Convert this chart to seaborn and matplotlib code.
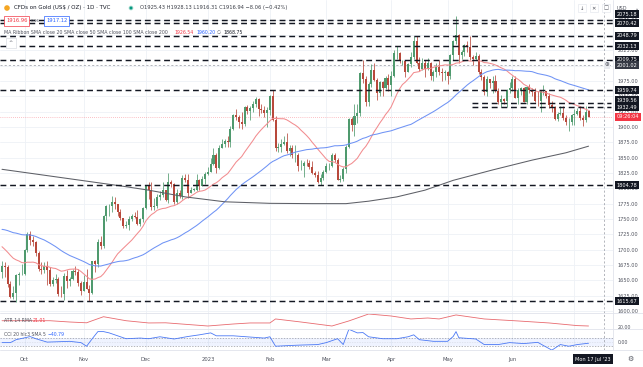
import numpy as np
import pandas as pd
import matplotlib
matplotlib.use("Agg")
import matplotlib.pyplot as plt
import matplotlib.transforms as mtransforms
from matplotlib.lines import Line2D
from matplotlib.patches import Circle
import seaborn as sns

# ---------------- data ----------------
start_date = "2022-09-21"
end_date = "2023-07-10"

opens = [
    1664, 1673, 1671, 1644, 1622, 1629, 1659, 1660,
    1661, 1699, 1725, 1716, 1712, 1695, 1668, 1666, 1673, 1666, 1644, 1650, 1652, 1628, 1627, 1657, 1649, 1652, 1665, 1663, 1645,
    1633, 1647, 1636, 1630, 1681, 1676, 1712, 1706, 1755, 1771, 1771, 1777, 1774, 1761, 1751, 1738, 1740, 1750, 1755, 1754, 1741, 1750,
    1768, 1803, 1797, 1769, 1771, 1786, 1789, 1797, 1781, 1810, 1807, 1777, 1793, 1787, 1817, 1814, 1792, 1798, 1798, 1814, 1804, 1815,
    1824, 1827, 1839, 1855, 1833, 1866, 1872, 1877, 1876, 1897, 1920, 1916, 1908, 1905, 1932, 1926, 1931, 1937, 1946, 1929, 1928, 1923,
    1928, 1951, 1912, 1865, 1867, 1873, 1875, 1861, 1865, 1854, 1855, 1836, 1836, 1842, 1841, 1835, 1825, 1822, 1811, 1817,
    1827, 1836, 1836, 1855, 1847, 1813, 1815, 1831, 1868, 1913, 1904, 1918, 1923, 1988, 1978, 1940, 1970, 1993, 1977, 1956, 1973, 1964, 1980,
    1969, 1984, 2020, 2021, 2007, 2008, 1990, 2003, 2014, 2040, 2004, 1995, 2005, 1994, 2004, 1983, 1989, 1998, 1990, 1988,
    1990, 1983, 2017, 2040, 2050, 2017, 2022, 2034, 2030, 2015, 2011, 2016, 1989, 1982, 1957, 1978, 1971, 1975, 1958, 1941, 1946, 1943, 1960,
    1963, 1978, 1948, 1961, 1963, 1940, 1965, 1961, 1957, 1943, 1942, 1958, 1958, 1950, 1936, 1932, 1913, 1921, 1923, 1914, 1908, 1908,
    1919, 1921, 1926, 1915, 1911, 1925.43,
]
highs = [
    1681, 1680, 1675, 1648, 1641, 1661, 1664, 1677,
    1701, 1729, 1730, 1722, 1714, 1698, 1679, 1679, 1682, 1671, 1655, 1660, 1655, 1641, 1662, 1667, 1656, 1669, 1674, 1668, 1649,
    1659, 1669, 1643, 1681, 1683, 1717, 1722, 1757, 1772, 1775, 1787, 1786, 1775, 1766, 1752, 1747, 1755, 1758, 1762, 1764, 1751, 1769,
    1804, 1810, 1810, 1785, 1790, 1795, 1810, 1798, 1825, 1814, 1808, 1799, 1798, 1822, 1824, 1823, 1802, 1800, 1823, 1815, 1820, 1826,
    1834, 1850, 1865, 1858, 1870, 1881, 1880, 1886, 1901, 1922, 1930, 1920, 1925, 1934, 1936, 1935, 1942, 1949, 1948, 1937, 1934, 1932,
    1952, 1960, 1918, 1874, 1880, 1885, 1890, 1871, 1870, 1870, 1857, 1846, 1845, 1848, 1846, 1844, 1829, 1828, 1823, 1830,
    1842, 1842, 1858, 1858, 1850, 1821, 1834, 1871, 1914, 1917, 1938, 1937, 1989, 2009, 1983, 1973, 2003, 2004, 1980, 1975, 1975, 1984, 1987,
    1991, 2025, 2032, 2023, 2009, 2009, 2005, 2023, 2048, 2048, 2014, 2013, 2010, 2012, 2006, 1993, 2004, 2010, 1997, 1993,
    1992, 2019, 2042, 2081, 2051, 2026, 2035, 2041, 2048, 2017, 2023, 2019, 1995, 1985, 1984, 1979, 1984, 1985, 1964, 1953, 1948, 1962, 1974,
    1983, 1983, 1964, 1966, 1966, 1967, 1970, 1964, 1963, 1959, 1959, 1968, 1959, 1955, 1943, 1934, 1924, 1934, 1934, 1920, 1915, 1922,
    1929, 1931, 1935, 1920, 1935, 1928.13,
]
lows = [
    1654, 1655, 1639, 1621, 1620, 1615, 1642, 1659,
    1659, 1696, 1708, 1706, 1690, 1665, 1660, 1662, 1642, 1640, 1640, 1645, 1625, 1622, 1617, 1638, 1641, 1651, 1659, 1640, 1626,
    1632, 1635, 1616, 1628, 1664, 1672, 1701, 1702, 1747, 1755, 1762, 1767, 1755, 1748, 1735, 1736, 1732, 1746, 1751, 1740, 1739, 1745,
    1767, 1782, 1765, 1765, 1768, 1781, 1786, 1779, 1776, 1802, 1774, 1774, 1785, 1783, 1810, 1784, 1792, 1796, 1796, 1798, 1803, 1807,
    1822, 1826, 1838, 1825, 1831, 1865, 1867, 1867, 1868, 1895, 1912, 1899, 1896, 1902, 1922, 1911, 1924, 1932, 1918, 1923, 1917, 1900,
    1920, 1910, 1861, 1860, 1860, 1870, 1858, 1852, 1849, 1843, 1829, 1830, 1819, 1836, 1831, 1823, 1818, 1809, 1805, 1813,
    1825, 1830, 1835, 1843, 1813, 1810, 1812, 1825, 1866, 1893, 1885, 1907, 1918, 1972, 1934, 1935, 1965, 1975, 1944, 1950, 1950, 1962, 1959,
    1950, 1982, 2011, 2004, 2001, 1981, 1990, 1998, 2011, 2002, 1992, 1993, 1981, 1993, 1976, 1975, 1982, 1985, 1975, 1977,
    1970, 1979, 2009, 2035, 2005, 2011, 2016, 2022, 2010, 2001, 2009, 1986, 1977, 1952, 1951, 1963, 1956, 1957, 1937, 1932, 1938, 1932, 1955,
    1958, 1947, 1938, 1953, 1940, 1938, 1956, 1950, 1941, 1935, 1924, 1952, 1947, 1931, 1925, 1911, 1910, 1920, 1911, 1903, 1893, 1904,
    1903, 1919, 1912, 1902, 1908, 1916.31,
]
closes = [
    1673, 1671, 1644, 1622, 1629, 1659, 1660, 1661,
    1699, 1725, 1716, 1712, 1695, 1668, 1666, 1673, 1666, 1644, 1650, 1652, 1628, 1627, 1657, 1649, 1652, 1665, 1663, 1645, 1633,
    1647, 1636, 1630, 1681, 1676, 1712, 1706, 1755, 1771, 1771, 1777, 1774, 1761, 1751, 1738, 1740, 1750, 1755, 1754, 1741, 1750, 1768,
    1803, 1797, 1769, 1771, 1786, 1789, 1797, 1781, 1810, 1807, 1777, 1793, 1787, 1817, 1814, 1792, 1798, 1798, 1814, 1804, 1815, 1824,
    1827, 1839, 1855, 1833, 1866, 1872, 1877, 1876, 1897, 1920, 1916, 1908, 1905, 1932, 1926, 1931, 1937, 1946, 1929, 1928, 1923, 1928,
    1951, 1912, 1865, 1867, 1873, 1875, 1861, 1865, 1854, 1855, 1836, 1836, 1842, 1841, 1835, 1825, 1822, 1811, 1817, 1827,
    1836, 1836, 1855, 1847, 1813, 1815, 1831, 1868, 1913, 1904, 1918, 1923, 1988, 1978, 1940, 1970, 1993, 1977, 1956, 1973, 1964, 1980, 1969,
    1984, 2020, 2021, 2007, 2008, 1990, 2003, 2014, 2040, 2004, 1995, 2005, 1994, 2004, 1983, 1989, 1998, 1990, 1988, 1990,
    1983, 2017, 2040, 2050, 2017, 2022, 2034, 2030, 2015, 2011, 2016, 1989, 1982, 1957, 1978, 1971, 1975, 1958, 1941, 1946, 1943, 1960, 1963,
    1978, 1948, 1961, 1963, 1940, 1965, 1961, 1957, 1943, 1942, 1958, 1958, 1950, 1936, 1932, 1913, 1921, 1923, 1914, 1908, 1908, 1919,
    1921, 1926, 1915, 1911, 1925, 1916.94,
]
# closes before the visible window (needed for the 20/50 SMAs at the left edge)
pre_closes = [
    1709, 1708, 1709, 1711, 1696, 1719, 1727, 1719, 1717, 1735, 1756, 1766,
    1772, 1760, 1765, 1791, 1775, 1789, 1794, 1792, 1789, 1802, 1779, 1776, 1761, 1758, 1747, 1736, 1748, 1751, 1758, 1737, 1725, 1723, 1711,
    1697, 1712, 1710, 1702, 1718, 1708, 1717, 1725, 1702, 1697, 1665, 1675, 1676, 1664,
]
# SMA 200 (bar index, value)
sma200_bar = [0, 14, 28, 42, 52, 65, 79, 95, 110, 122, 130, 140, 150, 160, 174, 188, 200, 208]
sma200_val = [1831, 1822, 1813, 1804, 1797, 1786, 1778, 1775.5, 1775, 1775, 1779, 1786, 1797, 1813, 1830, 1846, 1858, 1868.75]
# ATR 14 (RMA)
atr_bar = [0, 17, 24, 30, 32, 36, 44, 52, 58, 73, 82, 88, 95, 97, 106, 117, 123, 130, 138, 145, 151, 155, 161, 171, 183, 194, 204, 208]
atr_val = [27.6, 27.6, 26.0, 25.0, 27.6, 32.6, 27.6, 24.8, 25.0, 21.0, 23.5, 24.8, 24.8, 29.8, 26.0, 21.0, 27.3, 36.0, 33.5, 29.8,
           31.0, 29.8, 34.8, 29.8, 27.3, 24.8, 21.5, 21.01]
# CCI 20
cci_bar = [0, 3, 5, 10, 12, 16, 21, 24, 28, 30, 32, 34, 36, 38, 42, 44, 49, 52, 56, 61, 66, 70, 74, 76, 82, 88, 93, 95, 97, 102,
           106, 112, 115, 119, 121, 123, 126, 128, 130, 135, 140, 144, 146, 148, 153, 158, 160, 161, 162, 168, 171, 176, 180, 185,
           190, 192, 195, 198, 201, 204, 208]
cci_val = [-25, -25, 50, 130, 75, -12, 0, 8, -25, -118, 75, 258, 258, 225, 125, 75, 92, 75, 125, 68, 133, 175, 225, 150, 150, 118,
           92, 125, -118, -100, -88, -75, -25, 75, -75, 318, 225, 233, 125, 75, 75, 125, 175, 50, 8, 8, 133, 258, 100, 68, -75, -75,
           -25, -50, -18, -100, -218, -75, -118, -75, -40.79]

level_lines = [2075.18, 2070.42, 2048.79, 2032.13, 2009.75, 1959.74, 1804.78, 1615.67]
short_levels = [1939.56, 1932.49]
month_labels = ["Oct", "Nov", "Dec", "2023", "Feb", "Mar", "Apr", "May", "Jun"]
price_ticks = list(range(1600, 2100, 25))
last_price = 1916.94
cross_price = 2001.02

title_text = "CFDs on Gold (US$ / OZ) \u00b7 1D \u00b7 TVC"
ohlc_text = "O1925.43 H1928.13 L1916.31 C1916.94 \u22128.06 (\u22120.42%)"
ma_legend = "MA Ribbon SMA close 20 SMA close 50 SMA close 100 SMA close 200"
ma_values = ["1926.54", "1960.20", "\u2205", "1868.75"]

# ---------------- style ----------------
sns.set_theme(style="white")
plt.rcParams["font.family"] = ["DejaVu Sans"]

UP, DOWN = "#4f9a6e", "#b8493c"
TXT, AX_TXT = "#131722", "#50535e"
GRID = "#eef1f6"

W, H = 643, 367
fig = plt.figure(figsize=(W / 100, H / 100), dpi=100, facecolor="white")


def rect(x0, y0, x1, y1):
    return [x0 / W, 1 - y1 / H, (x1 - x0) / W, (y1 - y0) / H]


def fy(y):
    return 1 - y / H


ax = fig.add_axes(rect(0, 0, 613, 313))
ax_atr = fig.add_axes(rect(0, 313, 613, 329))
ax_cci = fig.add_axes(rect(0, 329, 613, 350))

dates = pd.bdate_range(start_date, end_date)
n = len(closes)
bars = np.arange(n)
month_start = [i for i in range(1, n) if dates[i].month != dates[i - 1].month]

XMIN, XMAX = -0.71, 216.67
CROSS_X = 213.5
for a in (ax, ax_atr, ax_cci):
    a.set_xlim(XMIN, XMAX)
    a.set_facecolor("white")
    for s in a.spines.values():
        s.set_visible(False)
    a.tick_params(length=0)
    a.set_xticks([])
    for m in month_start:
        a.axvline(m, color=GRID, lw=0.6, zorder=0)
    a.axvline(CROSS_X, color="#9598a1", lw=0.5, ls=(0, (3, 3)), zorder=6)

# ---------------- main price pane ----------------
ax.set_ylim(1596.6, 2107.2)
ax.yaxis.tick_right()
ax.set_yticks(price_ticks)
ax.set_yticklabels([f"{v:.2f}" for v in price_ticks], fontsize=3.6, color=AX_TXT)
ax.tick_params(axis="y", pad=3.2)
for p in price_ticks:
    ax.axhline(p, color=GRID, lw=0.6, zorder=0)

o = np.array(opens, float)
h = np.array(highs, float)
l = np.array(lows, float)
c = np.array(closes, float)
cols = np.where(c >= o, UP, DOWN)
ax.vlines(bars, l, h, colors=cols, linewidth=0.55, zorder=3)
body = np.maximum(np.abs(c - o), 0.8)
ax.bar(bars, body, bottom=np.minimum(o, c), width=0.72, color=cols, linewidth=0, zorder=4)

all_close = pd.Series(pre_closes + closes, dtype=float)
sma20 = all_close.rolling(20).mean().iloc[len(pre_closes):].to_numpy()
sma50 = all_close.rolling(50).mean().iloc[len(pre_closes):].to_numpy()
sns.lineplot(x=bars, y=sma20, ax=ax, color="#f28c8f", linewidth=0.75, zorder=5)
sns.lineplot(x=bars, y=sma50, ax=ax, color="#6f93f5", linewidth=0.75, zorder=5)
sns.lineplot(x=sma200_bar, y=sma200_val, ax=ax, color="#5d5f66", linewidth=0.75, zorder=5)
ax.set_xlabel("")
ax.set_ylabel("")

for lv in level_lines:
    ax.axhline(lv, color="#131722", lw=1.05, ls=(0, (4, 2.6)), zorder=6)
for lv in short_levels:
    ax.plot([166.5, 216.0], [lv, lv], color="#131722", lw=1.05, ls=(0, (4, 2.6)), zorder=6)
ax.axhline(last_price, color="#f23645", lw=0.5, ls=(0, (1, 2)), alpha=0.6, zorder=2)
ax.axhline(cross_price, color="#9598a1", lw=0.5, ls=(0, (3, 3)), zorder=2)

# price-axis labels with boxes
ytr = ax.get_yaxis_transform()


def axis_box(price, text, fc, tc="white", dy_px=0.0):
    tr = mtransforms.offset_copy(ytr, fig=fig, x=0, y=dy_px * 0.72, units="points")
    ax.text(1.0 + 3.5 / 613, price, text, transform=tr, fontsize=3.6, color=tc, ha="left", va="center",
            clip_on=False, zorder=20,
            bbox=dict(boxstyle="square,pad=0.3", fc=fc, ec="none"))


axis_box(2075.18, "2075.18", "#131722", dy_px=5.5)
axis_box(2070.42, "2070.42", "#131722", dy_px=-0.5)
axis_box(2048.79, "2048.79", "#131722")
axis_box(2032.13, "2032.13", "#131722")
axis_box(2009.75, "2009.75", "#131722")
axis_box(cross_price, "2001.02", "#363a45")
axis_box(1959.74, "1959.74", "#131722")
axis_box(1939.56, "1939.56", "#131722", dy_px=2.5)
axis_box(1932.49, "1932.49", "#131722")
axis_box(last_price, "09:26:04", "#f23645")
axis_box(1804.78, "1804.78", "#131722")
axis_box(1615.67, "1615.67", "#131722")

# ---------------- ATR pane ----------------
ax_atr.set_ylim(17.25, 37.25)
sns.lineplot(x=atr_bar, y=atr_val, ax=ax_atr, color="#e86a6f", linewidth=0.6)
ax_atr.yaxis.tick_right()
ax_atr.set_yticks([20])
ax_atr.set_yticklabels(["20.00"], fontsize=3.4, color=AX_TXT)
ax_atr.tick_params(axis="y", pad=3.2)
ax_atr.set_xlabel("")
ax_atr.set_ylabel("")
ax_atr.set_xticks([])

# ---------------- CCI pane ----------------
ax_cci.set_ylim(-215, 325)
ax_cci.axhspan(-100, 100, color="#2962ff", alpha=0.07, lw=0, zorder=0)
for lv in (-100, 100):
    ax_cci.axhline(lv, color="#9598a1", lw=0.5, ls=(0, (2, 2)), zorder=1)
ax_cci.axhline(0, color="#9598a1", lw=0.4, ls=(0, (1, 2)), alpha=0.5, zorder=1)
sns.lineplot(x=cci_bar, y=cci_val, ax=ax_cci, color="#4a78f5", linewidth=0.6, zorder=3)
ax_cci.yaxis.tick_right()
ax_cci.set_yticks([0])
ax_cci.set_yticklabels(["0.00"], fontsize=3.4, color=AX_TXT)
ax_cci.tick_params(axis="y", pad=3.2)
ax_cci.set_ylabel("")
ax_cci.set_xlabel("")
ax_cci.set_xticks(month_start[:len(month_labels)])
ax_cci.set_xticklabels(month_labels, fontsize=3.8, color=AX_TXT)
ax_cci.tick_params(axis="x", length=0, pad=5)
ax_cci.set_xlim(XMIN, XMAX)

# ---------------- separators ----------------
for yy in (313, 329, 350):
    fig.add_artist(Line2D([0, 1], [fy(yy), fy(yy)], transform=fig.transFigure, color="#e0e3eb", lw=0.6))
fig.add_artist(Line2D([613 / W, 613 / W], [fy(0), fy(350)], transform=fig.transFigure, color="#e0e3eb", lw=0.6))

# ---------------- header / legends ----------------
fig.add_artist(Circle((7 / 100, (H - 8) / 100), 0.028, transform=fig.dpi_scale_trans, fc="#f5a623", ec="none"))
fig.text(14 / W, fy(8), title_text, fontsize=4.0, color=TXT, ha="left", va="center")
fig.add_artist(Circle((131 / 100, (H - 8) / 100), 0.02, transform=fig.dpi_scale_trans, fc="#089981", ec="#bfe6dc", lw=0.6))
fig.text(140 / W, fy(8), ohlc_text, fontsize=3.7, color="#3b3e47", ha="left", va="center")

fig.text(6 / W, fy(21), "1916.96", fontsize=3.7, color="#f23645", ha="left", va="center",
         bbox=dict(boxstyle="square,pad=0.4", fc="white", ec="#f23645", lw=0.5))
fig.text(31 / W, fy(21), "0.16", fontsize=3.0, color=AX_TXT, ha="left", va="center")
fig.text(46 / W, fy(21), "1917.12", fontsize=3.7, color="#2962ff", ha="left", va="center",
         bbox=dict(boxstyle="square,pad=0.4", fc="white", ec="#2962ff", lw=0.5))

fig.text(4 / W, fy(32), ma_legend, fontsize=3.4, color=AX_TXT, ha="left", va="center")
ma_cols = ["#f23645", "#2962ff", AX_TXT, TXT]
for xx, txt, cc in zip([174, 196, 217, 223], ma_values, ma_cols):
    fig.text(xx / W, fy(32), txt, fontsize=3.3, color=cc, ha="left", va="center")
fig.text(11 / W, fy(43), "^", fontsize=3.6, color=AX_TXT, ha="center", va="center",
         bbox=dict(boxstyle="square,pad=0.5", fc="white", ec="#d1d4dc", lw=0.4))

fig.text(4 / W, fy(321), "ATR 14 RMA", fontsize=3.3, color=AX_TXT, ha="left", va="center")
fig.text(33 / W, fy(321), "21.01", fontsize=3.3, color="#f23645", ha="left", va="center")
fig.text(4 / W, fy(335), "CCI 20 hlc3 SMA 5", fontsize=3.3, color=AX_TXT, ha="left", va="center")
fig.text(48 / W, fy(335), "\u221240.79", fontsize=3.3, color="#2962ff", ha="left", va="center")

# top-right controls and axis extras
for xx, g in zip([582, 594, 606], ["\u2193", "\u2715", "\u25a1"]):
    fig.text(xx / W, fy(8), g, fontsize=3.8, color=AX_TXT, ha="center", va="center",
             bbox=dict(boxstyle="square,pad=0.35", fc="white", ec="#e0e3eb", lw=0.4))
fig.text(617 / W, fy(8), "USD", fontsize=3.6, color=AX_TXT, ha="left", va="center")
fig.text(635 / W, fy(8), "\u2304", fontsize=3.6, color=AX_TXT, ha="left", va="center")
fig.text(607 / W, fy(65), "\u2295", fontsize=4.0, color=AX_TXT, ha="center", va="center",
         bbox=dict(boxstyle="square,pad=0.2", fc="#e9ebf0", ec="none"))
fig.text(593 / W, fy(359), "Mon 17 Jul '23", fontsize=3.6, color="white", ha="center", va="center",
         bbox=dict(boxstyle="square,pad=0.45", fc="#131722", ec="none"))
fig.text(630 / W, fy(359), "\u2699", fontsize=5.0, color=AX_TXT, ha="center", va="center")

fig.savefig("out.png", dpi=100, facecolor="white")
